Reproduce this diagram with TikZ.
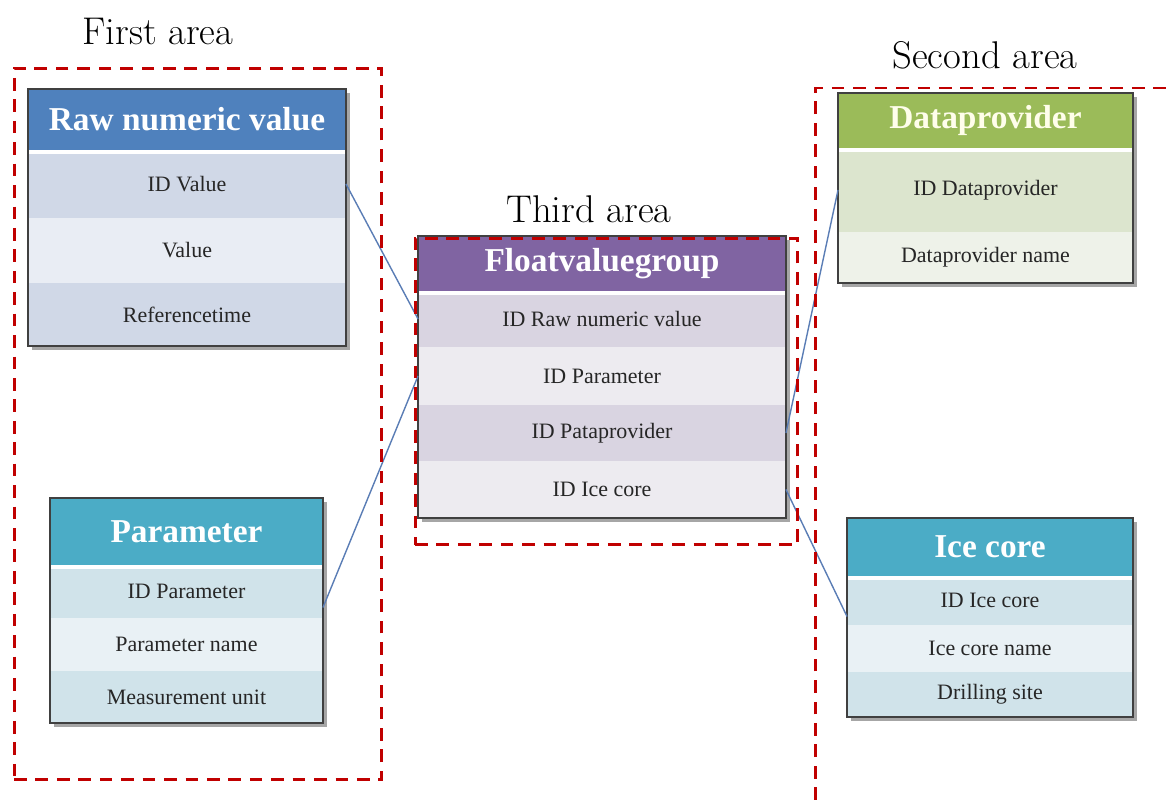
\documentclass[tikz,border=0pt]{standalone}
\usepackage{fontspec}
\newfontfamily\tabfont{Liberation Serif}
\usetikzlibrary{shadows,calc}
\definecolor{areared}{HTML}{C00000}
\definecolor{linkblue}{HTML}{5A7DB5}
\definecolor{rawH}{HTML}{4F81BD}\definecolor{rawA}{HTML}{D0D8E7}\definecolor{rawB}{HTML}{E9EDF4}
\definecolor{parH}{HTML}{4BACC6}\definecolor{parA}{HTML}{D0E3EA}\definecolor{parB}{HTML}{E9F1F5}
\definecolor{fvgH}{HTML}{8064A2}\definecolor{fvgA}{HTML}{D9D4E1}\definecolor{fvgB}{HTML}{EDEBF0}
\definecolor{dpH}{HTML}{9BBB59}\definecolor{dpA}{HTML}{DCE5CE}\definecolor{dpB}{HTML}{EEF2E9}
\begin{document}
\begin{tikzpicture}[x=0.02cm,y=-0.02cm,
  frame/.style={fill=white,draw=none,inner sep=0,outer sep=0,
    drop shadow={shadow xshift=2.5pt,shadow yshift=-2.5pt,opacity=0.35,fill=black}},
  border/.style={draw=black!75,line width=1pt},
  hdr/.style={inner sep=0,outer sep=0,text=white,font=\tabfont\fontsize{19}{21}\selectfont\bfseries},
  tabrow/.style={inner sep=0,outer sep=0,text=black!85,font=\tabfont\fontsize{12.5}{14}\selectfont},
  gap/.style={white,line width=2pt},
  area/.style={draw=areared,line width=1.7pt,dash pattern=on 7.2pt off 5pt},
  arealabel/.style={font=\fontsize{22}{26}\selectfont,inner sep=0},
  link/.style={draw=linkblue,line width=0.8pt}]
\useasboundingbox (0,0) rectangle (1173,800);

% labels
\node[arealabel] (l1) at (158,31) {First area};
\node[arealabel] (l3) at (589,209) {Third area};
\node[arealabel] (l2) at (985,55) {Second area};

% Raw numeric value
\node[frame,minimum width=6.36cm,minimum height=5.14cm] (rawf) at (187,217.5) {};
\node[hdr,fill=rawH,minimum width=6.36cm,minimum height=1.22cm] (rawh) at (187,119.5) {Raw numeric value};
\node[tabrow,fill=rawA,minimum width=6.36cm,minimum height=1.36cm] (raw1) at (187,184) {ID Value};
\node[tabrow,fill=rawB,minimum width=6.36cm,minimum height=1.30cm] (raw2) at (187,250.5) {Value};
\node[tabrow,fill=rawA,minimum width=6.36cm,minimum height=1.26cm] (raw3) at (187,314.5) {Referencetime};
\draw[gap] ($(rawh.south west)+(0,2)$) -- ($(rawh.south east)+(0,2)$);
\draw[border] (rawf.north west) rectangle (rawf.south east);

% Parameter
\node[frame,minimum width=5.46cm,minimum height=4.50cm] (parf) at (186.5,610.5) {};
\node[hdr,fill=parH,minimum width=5.46cm,minimum height=1.34cm] (parh) at (186.5,531.5) {Parameter};
\node[tabrow,fill=parA,minimum width=5.46cm,minimum height=1.06cm] (par1) at (186.5,591.5) {ID Parameter};
\node[tabrow,fill=parB,minimum width=5.46cm,minimum height=1.06cm] (par2) at (186.5,644.5) {Parameter name};
\node[tabrow,fill=parA,minimum width=5.46cm,minimum height=1.04cm] (par3) at (186.5,697) {Measurement unit};
\draw[gap] ($(parh.south west)+(0,2)$) -- ($(parh.south east)+(0,2)$);
\draw[border] (parf.north west) rectangle (parf.south east);

% Floatvaluegroup
\node[frame,minimum width=7.36cm,minimum height=5.64cm] (fvgf) at (602,377) {};
\node[hdr,fill=fvgH,minimum width=7.36cm,minimum height=1.10cm] (fvgh) at (602,263.5) {Floatvaluegroup};
\node[tabrow,fill=fvgA,minimum width=7.36cm,minimum height=1.12cm] (fvg1) at (602,319) {ID Raw numeric value};
\node[tabrow,fill=fvgB,minimum width=7.36cm,minimum height=1.16cm] (fvg2) at (602,376) {ID Parameter};
\node[tabrow,fill=fvgA,minimum width=7.36cm,minimum height=1.12cm] (fvg3) at (602,433) {ID Pataprovider};
\node[tabrow,fill=fvgB,minimum width=7.36cm,minimum height=1.14cm] (fvg4) at (602,489.5) {ID Ice core};
\draw[gap] ($(fvgh.south west)+(0,2)$) -- ($(fvgh.south east)+(0,2)$);
\draw[border] (fvgf.north west) rectangle (fvgf.south east);

% Dataprovider
\node[frame,minimum width=5.90cm,minimum height=3.80cm] (dpf) at (985.5,188) {};
\node[hdr,fill=dpH,minimum width=5.90cm,minimum height=1.10cm] (dph) at (985.5,120.5) {\textcolor{white!92!yellow}{Dataprovider}};
\node[tabrow,fill=dpA,minimum width=5.90cm,minimum height=1.68cm] (dp1) at (985.5,190) {ID Dataprovider};
\node[tabrow,fill=dpB,minimum width=5.90cm,minimum height=1.02cm] (dp2) at (985.5,257.5) {Dataprovider name};
\draw[gap] ($(dph.south west)+(0,2)$) -- ($(dph.south east)+(0,2)$);
\draw[border] (dpf.north west) rectangle (dpf.south east);

% Ice core
\node[frame,minimum width=5.72cm,minimum height=3.98cm] (icf) at (990,617.5) {};
\node[hdr,fill=parH,minimum width=5.72cm,minimum height=1.16cm] (ich) at (990,547) {Ice core};
\node[tabrow,fill=parA,minimum width=5.72cm,minimum height=0.98cm] (ic1) at (990,600.5) {ID Ice core};
\node[tabrow,fill=parB,minimum width=5.72cm,minimum height=0.94cm] (ic2) at (990,648.5) {Ice core name};
\node[tabrow,fill=parA,minimum width=5.72cm,minimum height=0.90cm] (ic3) at (990,694.5) {Drilling site};
\draw[gap] ($(ich.south west)+(0,2)$) -- ($(ich.south east)+(0,2)$);
\draw[border] (icf.north west) rectangle (icf.south east);

% connectors
\draw[link] (raw1.east) -- (fvg1.west);
\draw[link] ($(par1.east)+(0,16)$) -- (fvg2.west);
\draw[link] (fvg3.east) -- (dp1.west);
\draw[link] (fvg4.east) -- ($(ic1.west)+(0,16)$);

% areas
\node[area,minimum width=7.36cm,minimum height=14.24cm,inner sep=0] (a1) at (198,424) {};
\node[area,minimum width=7.66cm,minimum height=6.14cm,inner sep=0] (a3) at (606.5,391.5) {};
\coordinate (a2b) at (815,800);
\coordinate (a2c) at (815,88);
\coordinate (a2r) at (1173,88);
\draw[area] (a2b) -- (a2c) -- (a2r);
\end{tikzpicture}
\end{document}
